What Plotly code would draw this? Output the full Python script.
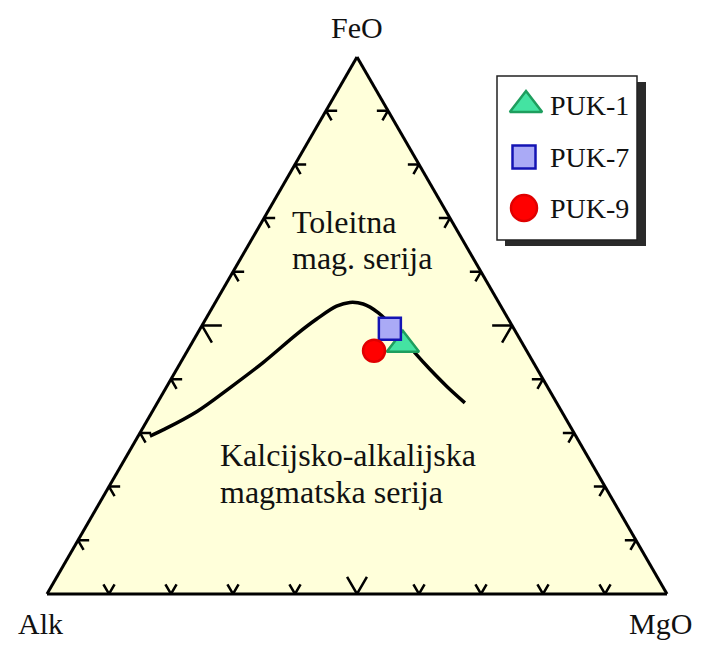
#!/usr/bin/env python3
"""
AFM ternary diagram (Alk - FeO - MgO) with the tholeiitic / calc-alkaline boundary
"""

import plotly.graph_objects as go

# Boundary curve
CURVE_FEO = [0.294, 0.306, 0.340, 0.384, 0.431, 0.484, 0.512, 0.536, 0.543, 0.540, 0.524, 0.490, 0.449, 0.418, 0.387, 0.356]
CURVE_ALK = [0.687, 0.659, 0.588, 0.513, 0.436, 0.355, 0.309, 0.265, 0.240, 0.220, 0.204, 0.191, 0.182, 0.173, 0.162, 0.148]
CURVE_MGO = [0.019, 0.035, 0.072, 0.103, 0.133, 0.161, 0.179, 0.199, 0.217, 0.240, 0.272, 0.319, 0.369, 0.409, 0.451, 0.496]

# Samples
SAMPLE_NAMES = ["PUK-1", "PUK-7", "PUK-9"]
SAMPLE_FEO = [0.464, 0.494, 0.453]
SAMPLE_ALK = [0.194, 0.200, 0.246]
SAMPLE_MGO = [0.342, 0.306, 0.301]

# Ticks every 10 %
TICK_STEPS = [0.1, 0.2, 0.3, 0.4, 0.5, 0.6, 0.7, 0.8, 0.9]

SERIF = "Liberation Serif"
FILL = "#FFFFDA"

# the page body has an 8px margin, so the figure is drawn a bit smaller
OFF = 8
W, H = 716 - 2 * OFF, 648 - 2 * OFF

STYLES = {
    "PUK-1": dict(symbol="triangle-up", color="#44E3A2", line="#1E9E5E"),
    "PUK-7": dict(symbol="square", color="#AAAAF6", line="#1414B4"),
    "PUK-9": dict(symbol="circle", color="#FF0000", line="#E00000"),
}


def tick_segments():
    """Chevron ticks along each edge, arms parallel to the other two edges"""
    a, b, c = [], [], []
    for t in TICK_STEPS:
        d = 0.032 if t == 0.5 else 0.018
        # bottom edge (FeO = 0)
        p = (0.0, 1 - t, t)
        a += [p[0] + d, p[0], p[0] + d, None]
        b += [p[1] - d, p[1], p[1], None]
        c += [p[2], p[2], p[2] - d, None]
        # left edge (MgO = 0)
        p = (t, 1 - t, 0.0)
        a += [p[0], p[0], p[0] - d, None]
        b += [p[1] - d, p[1], p[1], None]
        c += [p[2] + d, p[2], p[2] + d, None]
        # right edge (Alk = 0)
        p = (t, 0.0, 1 - t)
        a += [p[0], p[0], p[0] - d, None]
        b += [p[1] + d, p[1], p[1] + d, None]
        c += [p[2] - d, p[2], p[2], None]
    return a, b, c


def main():
    fig = go.Figure()

    ta, tb, tc = tick_segments()
    fig.add_trace(go.Scatterternary(
        a=ta, b=tb, c=tc, mode="lines",
        line=dict(color="black", width=2.5),
        hoverinfo="skip", showlegend=False,
    ))

    fig.add_trace(go.Scatterternary(
        a=CURVE_FEO, b=CURVE_ALK, c=CURVE_MGO, mode="lines",
        line=dict(color="black", width=3.5, shape="spline"),
        hoverinfo="skip", showlegend=False,
    ))

    sizes = {"PUK-1": 28, "PUK-7": 22, "PUK-9": 22}
    for i, name in enumerate(SAMPLE_NAMES):
        st = STYLES[name]
        fig.add_trace(go.Scatterternary(
            a=[SAMPLE_FEO[i]], b=[SAMPLE_ALK[i]], c=[SAMPLE_MGO[i]],
            mode="markers", name=name, showlegend=False,
            marker=dict(symbol=st["symbol"], size=sizes[name], color=st["color"],
                        line=dict(color=st["line"], width=2.5)),
        ))

    # Hand-drawn legend on a hidden cartesian axis (units = page pixels)
    leg_x = [526, 524, 524]
    leg_y = [105, 157, 208]
    leg_sizes = [28, 23, 26]
    for i, name in enumerate(SAMPLE_NAMES):
        st = STYLES[name]
        fig.add_trace(go.Scatter(
            x=[leg_x[i]], y=[leg_y[i]], mode="markers", showlegend=False,
            hoverinfo="skip",
            marker=dict(symbol=st["symbol"], size=leg_sizes[i], color=st["color"],
                        line=dict(color=st["line"], width=2.5)),
        ))
        fig.add_annotation(x=548, y=leg_y[i], text=name, showarrow=False,
                           xanchor="left", yanchor="middle",
                           font=dict(family=SERIF, size=28, color="#111"))

    fig.add_shape(type="rect", x0=505, y0=82, x1=646, y1=246, xref="x", yref="y",
                  fillcolor="#2A2A2A", line=dict(width=0), layer="below")
    fig.add_shape(type="rect", x0=497, y0=76, x1=637, y1=240, xref="x", yref="y",
                  fillcolor="white", line=dict(color="#222", width=1.5), layer="below")

    # Labels
    labels = [
        ("FeO", 357, 27, "center", 30),
        ("Alk", 40, 623, "center", 30),
        ("MgO", 660, 623, "center", 30),
        ("Toleitna", 290, 222, "left", 32),
        ("mag. serija", 290, 258, "left", 32),
        ("Kalcijsko-alkalijska", 218, 455, "left", 32),
        ("magmatska serija", 218, 492, "left", 32),
    ]
    for text, x, y, anchor, size in labels:
        fig.add_annotation(x=x, y=y, text=text, showarrow=False,
                           xanchor=anchor, yanchor="middle",
                           font=dict(family=SERIF, size=size, color="#111"))

    axis_style = dict(showline=True, linecolor="black", linewidth=3,
                      showgrid=False, ticks="", showticklabels=False, title="")

    fig.update_layout(
        width=W, height=H,
        margin=dict(l=0, r=0, t=0, b=0),
        paper_bgcolor="white",
        plot_bgcolor="rgba(0,0,0,0)",
        showlegend=False,
        ternary=dict(
            sum=1,
            bgcolor=FILL,
            domain=dict(x=[(47 - OFF) / W, (667 - OFF) / W],
                        y=[1 - (594 - OFF) / H, 1 - (57 - OFF) / H]),
            aaxis=axis_style, baxis=axis_style, caxis=axis_style,
        ),
        xaxis=dict(range=[OFF, OFF + W], domain=[0, 1], visible=False, fixedrange=True),
        yaxis=dict(range=[OFF + H, OFF], domain=[0, 1], visible=False, fixedrange=True),
    )

    fig.write_html("out.html")


if __name__ == "__main__":
    main()
